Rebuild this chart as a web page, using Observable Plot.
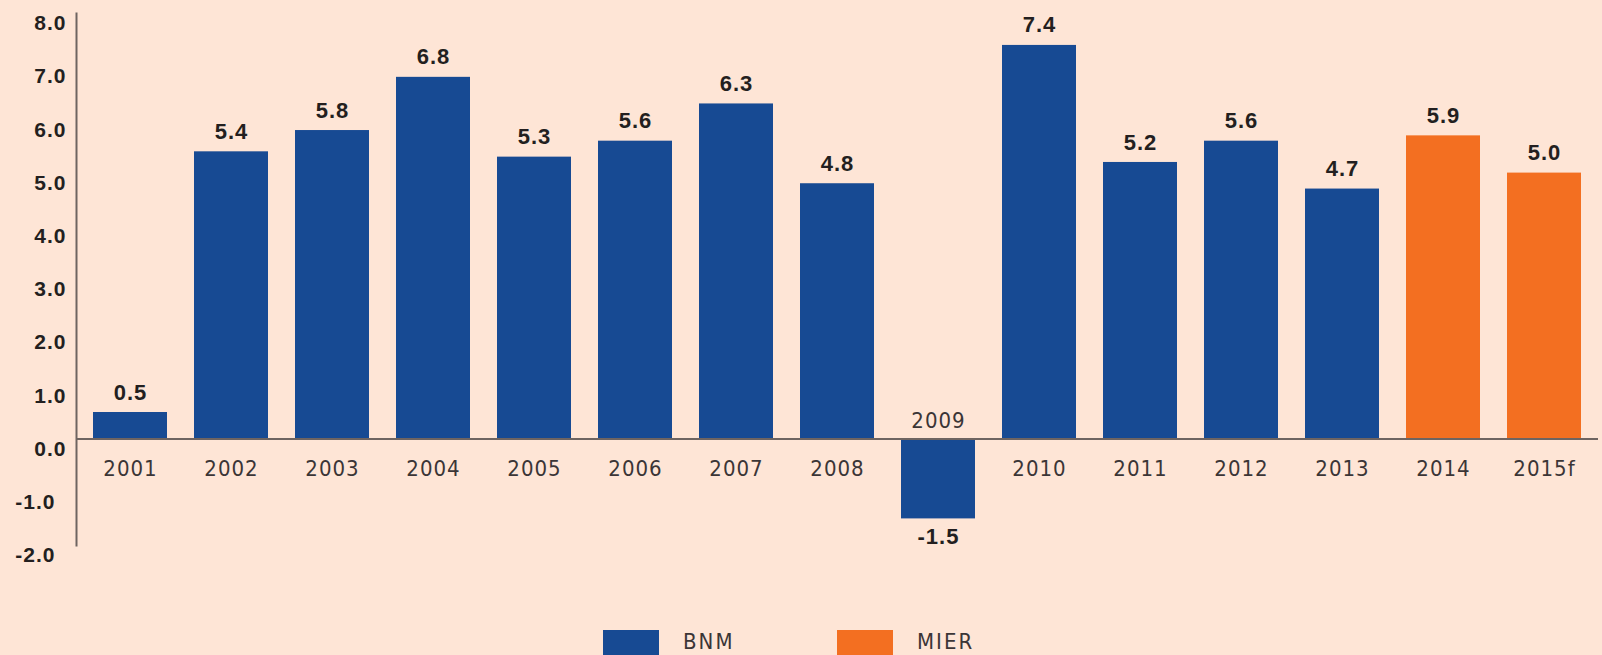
<!DOCTYPE html>
<html><head><meta charset="utf-8">
<script src="https://cdn.jsdelivr.net/npm/d3@7"></script>
<script src="https://cdn.jsdelivr.net/npm/@observablehq/plot@0.6"></script>
<style>
html,body{margin:0;padding:0;background:#fee5d6;overflow:hidden;width:1602px;height:655px;}
#chart{position:relative;width:1602px;height:655px;}
#chart svg{letter-spacing:1px;}
.item{position:absolute;top:630px;display:flex;align-items:flex-start;font-family:"DejaVu Sans Condensed","DejaVu Sans",sans-serif;font-stretch:condensed;font-size:22px;line-height:24px;color:#3b3536;letter-spacing:2px}
.sw{width:56px;height:30px;margin-right:24px}
</style></head><body><div id="chart"></div>
<script>
const years = ["2001","2002","2003","2004","2005","2006","2007","2008","2009","2010","2011","2012","2013","2014","2015f"];
const values = [0.5,5.4,5.8,6.8,5.3,5.6,6.3,4.8,-1.5,7.4,5.2,5.6,4.7,5.7,5.0];
const valueLabels = ["0.5","5.4","5.8","6.8","5.3","5.6","6.3","4.8","-1.5","7.4","5.2","5.6","4.7","5.9","5.0"];
const sources = ["BNM","BNM","BNM","BNM","BNM","BNM","BNM","BNM","BNM","BNM","BNM","BNM","BNM","MIER","MIER"];
const seriesNames = ["BNM","MIER"];
const seriesColors = ["#174a93","#f36f21"];
const yTicksPos = [0,1,2,3,4,5,6,7,8];
const yTicksNeg = [-2,-1];

const data = years.map((y,i)=>({year:y, value:values[i], label:valueLabels[i], source:sources[i]}));
const pos = data.filter(d=>d.value>=0);
const neg = data.filter(d=>d.value<0);
const fmt = d => d.toFixed(1);
const axisColor = "#6e6461";
const darkText = "#231f20";
const yearText = "#3b3536";
const yearFont = "DejaVu Sans Condensed, DejaVu Sans, sans-serif";

const chart = Plot.plot({
  width:1602, height:600,
  marginTop:13, marginBottom:55, marginLeft:76, marginRight:4,
  style:{background:"transparent", fontFamily:"Liberation Sans"},
  x:{domain:years, paddingInner:0.271, paddingOuter:0.138, axis:null},
  y:{domain:[-2,8], axis:null},
  color:{domain:seriesNames, range:seriesColors},
  marks:[
    Plot.barY(data,{x:"year", y:"value", fill:"source"}),
    Plot.ruleY([0],{stroke:axisColor, strokeWidth:2}),
    Plot.frame({anchor:"left", stroke:axisColor, strokeWidth:2}),
    Plot.axisY({ticks:yTicksPos, label:null, tickSize:0, tickPadding:10, dy:10, tickFormat:fmt, fontSize:21, fontWeight:"bold", fill:darkText}),
    Plot.axisY({ticks:yTicksNeg, label:null, tickSize:0, tickPadding:21, dy:10, tickFormat:fmt, fontSize:21, fontWeight:"bold", fill:darkText}),
    Plot.text(pos,{x:"year", y:"value", text:"label", dy:-20, fontSize:22, fontWeight:"bold", fill:darkText}),
    Plot.text(neg,{x:"year", y:"value", text:"label", dy:18, fontSize:22, fontWeight:"bold", fill:darkText}),
    Plot.text(pos,{x:"year", y:()=>0, text:"year", dy:30, fontSize:22, fontFamily:yearFont, fill:yearText, ariaLabel:"year-label"}),
    Plot.text(neg,{x:"year", y:()=>0, text:"year", dy:-18, fontSize:22, fontFamily:yearFont, fill:yearText, ariaLabel:"year-label"})
  ]
});
d3.select(chart).selectAll('g[aria-label="year-label"]').style("font-stretch","condensed").style("letter-spacing","-0.3px");
const root = document.getElementById("chart");
root.appendChild(chart);
const lefts = [603, 837];
seriesNames.forEach((n,i)=>{
  const it = document.createElement("div");
  it.className = "item";
  it.style.left = lefts[i] + "px";
  it.innerHTML = `<div class="sw" style="background:${seriesColors[i]}"></div><div>${n}</div>`;
  root.appendChild(it);
});
</script>
</body></html>
